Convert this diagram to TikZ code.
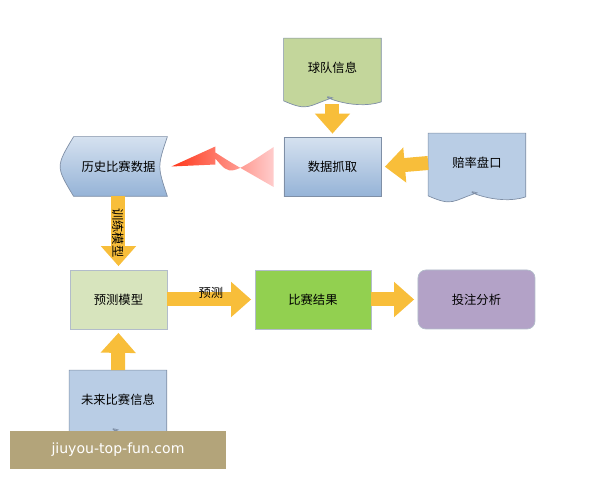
\documentclass[tikz,border=0pt]{standalone}
\usepackage{fontspec}
\setmainfont{Noto Sans CJK SC}
\usetikzlibrary{arrows.meta,positioning,shapes}
\definecolor{docblue}{HTML}{B9CDE5}
\definecolor{docbluedk}{HTML}{95B3D7}
\definecolor{teamgreen}{HTML}{C3D69B}
\definecolor{modelgreen}{HTML}{D7E4BD}
\definecolor{resgreen}{HTML}{92D050}
\definecolor{anapurple}{HTML}{B3A2C7}
\definecolor{arroworange}{HTML}{F8BE3A}
\definecolor{edgegray}{HTML}{7F8FA6}
\definecolor{marktan}{HTML}{B3A47A}
\newlength{\unitlen}\setlength{\unitlen}{0.02cm}
\tikzset{%
  box/.style={rectangle, minimum width=97\unitlen, minimum height=59\unitlen, inner sep=0pt, font=\fontsize{7}{8}\selectfont},
  bluebox/.style={box, draw=edgegray, top color=docblue!60, bottom color=docbluedk},
  doc/.style={box, draw=none},
  fat/.style={draw=arroworange, line width=14\unitlen, -{Triangle[length=0.4cm,width=0.68cm]}, shorten >=2pt},
  lbl/.style={font=\fontsize{7}{8}\selectfont, inner sep=1pt}
}
\begin{document}
\begin{tikzpicture}[x=0.02cm, y=-0.02cm]
  \useasboundingbox (0,0) rectangle (600,480);
  % documents with a wavy foot
  \node [doc] (team) at (332.5,68) {};
  \node [doc] (odds) at (477,163) {};
  \node [doc] (future) at (118,400) {};
  \foreach \n/\c in {team/teamgreen, odds/docblue, future/docblue}{
    \filldraw [draw=edgegray, fill=\c] (\n.north west) -- (\n.north east) -- ([yshift=-4\unitlen]\n.south east)
      .. controls ([xshift=-30\unitlen,yshift=-14\unitlen]\n.south east) and ([xshift=-20\unitlen,yshift=6\unitlen]\n.south) .. (\n.south)
      .. controls ([xshift=-25\unitlen,yshift=-8\unitlen]\n.south) and ([xshift=25\unitlen,yshift=-14\unitlen]\n.south west) .. ([yshift=-3\unitlen]\n.south west) -- cycle;
  }
  \node [doc] at (team) {球队信息};
  \node [doc] at (odds) {赔率盘口};
  \node [doc] at (future) {未来比赛信息};
  \node [bluebox] (grab) at (332.5,167) {数据抓取};
  % stored data
  \node [box] (hist) at (118.5,166.5) {};
  \shade [draw=edgegray, top color=docblue!60, bottom color=docbluedk]
    ([xshift=4\unitlen]hist.north west) -- (hist.north east)
    .. controls ([xshift=-10\unitlen]hist.east) .. (hist.south east)
    -- ([xshift=4\unitlen]hist.south west)
    .. controls ([xshift=-14\unitlen]hist.west) .. ([xshift=4\unitlen]hist.north west) -- cycle;
  \node [box] at (hist) {历史比赛数据};
  \node [box, draw=edgegray!60, fill=modelgreen] (model) at (118.5,299.5) {预测模型};
  \node [box, draw=edgegray!60, fill=resgreen, minimum width=116\unitlen] (result) at (313,299.5) {比赛结果};
  \node [box, draw=edgegray!60, fill=anapurple, rounded corners=8\unitlen, minimum width=117\unitlen] (ana) at (476.5,299.5) {投注分析};
  % watermark
  \node [rectangle, fill=marktan, minimum width=216\unitlen, minimum height=38\unitlen, inner sep=0pt,
    font=\fontspec{DejaVu Sans}\fontsize{8}{9}\selectfont, text=white] (mark) at (118,450) {jiuyou-top-fun.com};
  % arrows
  \draw [fat] ([yshift=-6\unitlen]team.south) -- (grab.north);
  \draw [fat] (odds.west) -- (grab.east);
  \draw [fat] (hist.south) -- node [lbl, rotate=-90] {训练模型} (model.north);
  \draw [fat] (model.east) -- node [lbl, above=-8\unitlen] {预测} (result.west);
  \draw [fat] (result.east) -- (ana.west);
  \draw [fat] (future.north) -- (model.south);
  % fading arrow to the history store
  \coordinate (tailtop) at ([xshift=-10\unitlen,yshift=-20\unitlen]grab.west);
  \shade [left color=red!75!orange!90, right color=red!20] ([xshift=4\unitlen]hist.east)
    -- ++(44,-20) -- ++(0,6) .. controls (230,162) .. (tailtop) -- ([xshift=-10\unitlen,yshift=20\unitlen]grab.west)
    .. controls (230,176) .. ([xshift=48\unitlen,yshift=8\unitlen]hist.east) -- ++(0,6) -- cycle;
\end{tikzpicture}
\end{document}
